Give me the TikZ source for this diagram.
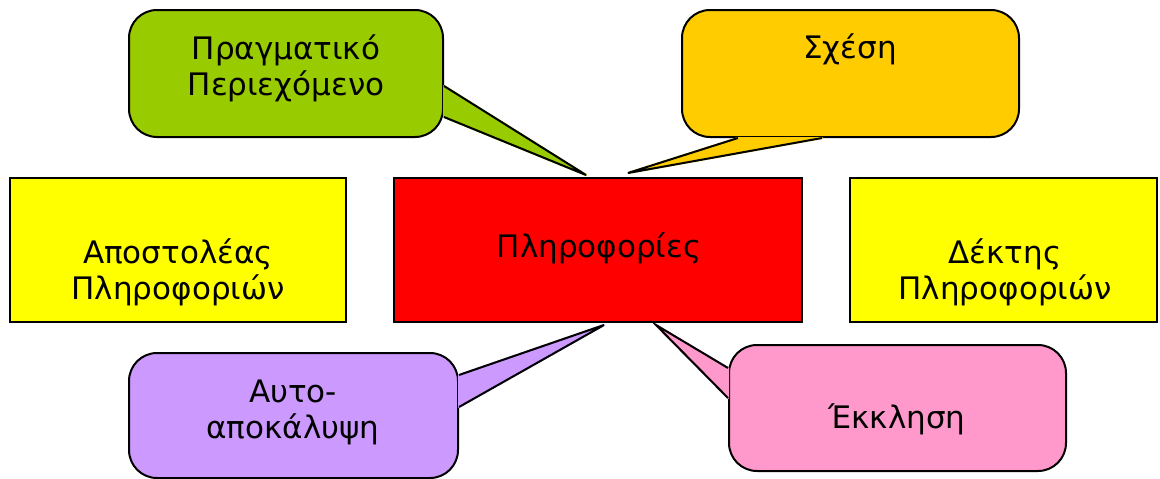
\documentclass[tikz,border=0pt]{standalone}
\usepackage{fontspec}
\setmainfont{DejaVu Sans}
\usetikzlibrary{calc}
\definecolor{boxyellow}{HTML}{FFFF00}
\definecolor{boxred}{HTML}{FF0000}
\definecolor{bubgreen}{HTML}{99CC00}
\definecolor{bubgold}{HTML}{FFCC00}
\definecolor{bubviolet}{HTML}{CC99FF}
\definecolor{bubpink}{HTML}{FF99CC}
\tikzset{
	box/.style={draw, rectangle, minimum height=144pt},
	bubble/.style={draw, rectangle, rounded corners=28pt},
	lbl/.style={font=\fontsize{31}{36}\selectfont, align=center}
}
\newcommand{\pointer}[4] % colour, base point, base point, tip
{
	% cover the outline of the bubble between the base points
	\filldraw[fill=#1, draw=#1, line join=round] #2 -- #4 -- #3 -- cycle;
	% the two sides of the pointer
	\draw[line join=miter] #2 -- #4 -- #3;
}

\begin{document}
\begin{tikzpicture}[x=1pt, y=-1pt, line width=2pt]
	% 1160 x 479, y grows downwards
	\useasboundingbox (0,0) rectangle (1160,479);
	% the three boxes in the middle row
	\node[box, fill=boxyellow, minimum width=336pt] (sender) at (178,250) {};
	\node[box, fill=boxred, minimum width=408pt] (info) at (598,250) {};
	\node[box, fill=boxyellow, minimum width=307pt] (receiver) at (1003.5,250) {};
	
	% the four bubbles
	\node[bubble, fill=bubgreen, minimum width=314pt, minimum height=127pt] (fact) at (286,73.5) {};
	\node[bubble, fill=bubgold, minimum width=337pt, minimum height=127pt] (rel) at (850.5,73.5) {};
	\node[bubble, fill=bubviolet, minimum width=329pt, minimum height=125pt] (self) at (293.5,415.5) {};
	\node[bubble, fill=bubpink, minimum width=337pt, minimum height=126pt] (appeal) at (897.5,408) {};
	
	% pointer tips on the red box
	\coordinate (tfact) at ($(info.north)+(-12,-2)$);
	\coordinate (trel) at ($(info.north)+(30,-4)$);
	\coordinate (tself) at ($(info.south)+(6,2)$);
	\coordinate (tappeal) at ($(info.south)+(58,2)$);
	
	\pointer{bubgreen}{($(fact.east)+(0,12.5)$)}{($(fact.east)+(0,43.5)$)}{(tfact)};
	\pointer{bubgold}{($(rel.south)+(-112.5,0)$)}{($(rel.south)+(-28.5,0)$)}{(trel)};
	\pointer{bubviolet}{($(self.east)+(0,-40.5)$)}{($(self.east)+(0,-8.5)$)}{(tself)};
	\pointer{bubpink}{($(appeal.west)+(0,-40)$)}{($(appeal.west)+(0,-10)$)}{(tappeal)};
	
	% texts
	\node[lbl] (tsender) at (178,272.5) {Αποστολέας\\Πληροφοριών};
	\node[lbl, anchor=base] (tinfo) at (599,257) {Πληροφορίες};
	\node[lbl] (treceiver) at (1005,272.5) {Δέκτης\\Πληροφοριών};
	\node[lbl] (tfacttext) at (286,68) {Πραγματικό\\Περιεχόμενο};
	\node[lbl, anchor=base] (treltext) at (850,58) {Σχέση};
	\node[lbl] (tselftext) at (293,412.5) {Αυτο-\\αποκάλυψη};
	\node[lbl, anchor=base] (tappealtext) at (897,428) {Έκκληση};
\end{tikzpicture}
\end{document}
